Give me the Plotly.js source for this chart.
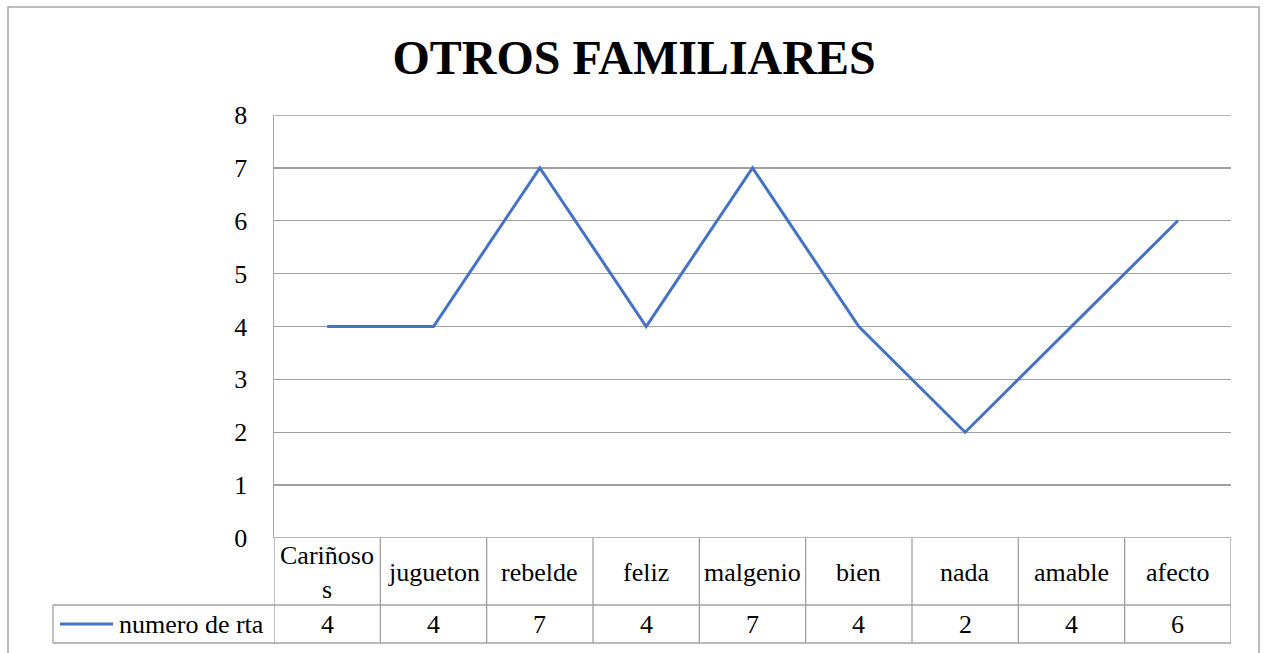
<!DOCTYPE html>
<html>
<head>
<meta charset="utf-8">
<script src="https://cdn.plot.ly/plotly-3.0.1.min.js"></script>
<style>html,body{margin:0;padding:0;background:#fff;}#chart{width:1265px;height:653px;}</style>
</head>
<body>
<div id="chart"></div>
<script>
const categories = ["Cariñosos", "jugueton", "rebelde", "feliz", "malgenio", "bien", "nada", "amable", "afecto"];
const categoryLabels = ["Cariñoso<br>s", "jugueton", "rebelde", "feliz", "malgenio", "bien", "nada", "amable", "afecto"];
const values = [4, 4, 7, 4, 7, 4, 2, 4, 6];
const seriesName = "numero de rta";
const chartTitle = "OTROS FAMILIARES";

const W = 1265, H = 653;
const M = {l: 274, r: 34, t: 115, b: 115};
const PW = W - M.l - M.r, PH = H - M.t - M.b;
const px = x => (x - M.l) / PW;
const py = y => (H - M.b - y) / PH;

const FONT = "Liberation Serif";
const GRID = "#a0a0a0";
const LINE = "#4472C4";

const shapes = [];
const annotations = [];

// outer chart border
shapes.push({type: "rect", xref: "paper", yref: "paper", x0: px(8), x1: px(1259), y0: py(7), y1: py(665),
  line: {color: "#a6a6a6", width: 1.5}, fillcolor: "rgba(0,0,0,0)", layer: "below"});

// top and bottom gridlines (edges of plot area)
[0, 8].forEach(v => {
  shapes.push({type: "line", xref: "paper", yref: "y", x0: 0, x1: 1, y0: v, y1: v, line: {color: GRID, width: 1.3}, layer: "below"});
});

// data table horizontal lines
shapes.push({type: "line", xref: "paper", yref: "paper", x0: px(53), x1: 1, y0: py(605), y1: py(605), line: {color: GRID, width: 1.3}});
shapes.push({type: "line", xref: "paper", yref: "paper", x0: px(53), x1: 1, y0: py(643), y1: py(643), line: {color: GRID, width: 1.3}});
// legend cell left border
shapes.push({type: "line", xref: "paper", yref: "paper", x0: px(53), x1: px(53), y0: py(605), y1: py(643), line: {color: GRID, width: 1.3}});
// column separators
for (let i = 0; i <= categories.length; i++) {
  shapes.push({type: "line", xref: "x", yref: "paper", x0: i - 0.5, x1: i - 0.5, y0: 0, y1: py(643), line: {color: GRID, width: 1.3}});
}
// legend key line
shapes.push({type: "line", xref: "paper", yref: "paper", x0: px(60), x1: px(113), y0: py(624), y1: py(624), line: {color: LINE, width: 3}});

annotations.push({xref: "paper", yref: "paper", x: px(117), y: py(624), xanchor: "left", yanchor: "middle",
  text: seriesName, showarrow: false, font: {family: FONT, size: 26, color: "#000"}});

categories.forEach((c, i) => {
  annotations.push({xref: "x", yref: "paper", x: i, y: py(572), xanchor: "center", yanchor: "middle",
    text: categoryLabels[i], showarrow: false, font: {family: FONT, size: 26, color: "#000"}});
  annotations.push({xref: "x", yref: "paper", x: i, y: py(624), xanchor: "center", yanchor: "middle",
    text: String(values[i]), showarrow: false, font: {family: FONT, size: 26, color: "#000"}});
});

const trace = {
  type: "scatter", mode: "lines", x: categories.map((c, i) => i), y: values, name: seriesName,
  line: {color: LINE, width: 3}, hoverinfo: "skip"
};

const layout = {
  width: W, height: H,
  margin: M,
  paper_bgcolor: "#fff", plot_bgcolor: "#fff",
  showlegend: false,
  font: {family: FONT, color: "#000"},
  title: {text: "<b>" + chartTitle + "</b>", x: 634 / W, xref: "container", xanchor: "center", y: 1 - 57 / H, yref: "container", yanchor: "middle",
    font: {family: FONT, size: 48, color: "#000"}},
  xaxis: {range: [-0.5, categories.length - 0.5], showticklabels: false, showgrid: false, zeroline: false,
    showline: false, ticks: "", fixedrange: true},
  yaxis: {range: [0, 8], dtick: 1, tick0: 0, showgrid: true, gridcolor: GRID, gridwidth: 1.3, zeroline: false,
    showline: true, linecolor: "#a6a6a6", linewidth: 1.5, ticks: "outside", ticklen: 20, tickcolor: "rgba(0,0,0,0)",
    tickfont: {family: FONT, size: 26, color: "#000"}, fixedrange: true},
  shapes: shapes,
  annotations: annotations
};

Plotly.newPlot("chart", [trace], layout, {displayModeBar: false, staticPlot: true});
</script>
</body>
</html>
